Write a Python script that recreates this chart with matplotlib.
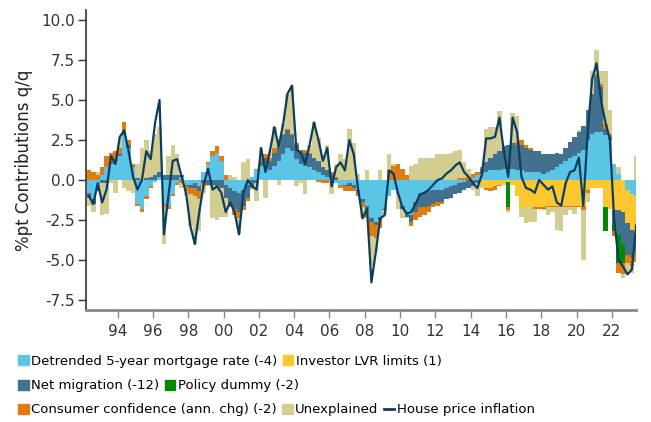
import numpy as np
import pandas as pd
import matplotlib
matplotlib.use('Agg')
import matplotlib.pyplot as plt
from matplotlib.patches import Patch
from matplotlib.lines import Line2D

plt.rcParams['font.family'] = ['DejaVu Sans']

# quarterly periods, 1992Q2 .. 2023Q2
quarters = pd.period_range('1992Q2', '2023Q2', freq='Q')

# contributions, %pt (one row per year)
mortgage = [
    -0.8, -1.2, -0.5,
    0.3, 0.8, 1.0, 1.2,
    1.5, 2.8, 2.0, 0.8,
    -1.5, -1.8, -1.0, -0.4,
    -0.1, 0.2, -1.5, -1.6,
    -0.9, -0.2, 0.2, -0.3,
    -0.3, -0.2, -0.4, 0.5,
    1.0, 1.5, 1.7, 1.2,
    -0.3, -0.5, -0.7, -0.8,
    -0.6, -0.3, 0.2, 0.6,
    0.9, 1.0, 0.6, 0.9,
    1.2, 1.6, 2.0, 1.8,
    1.3, 1.0, 0.9, 0.8,
    0.6, 0.5, 0.3, 0.2,
    0.1, -0.2, -0.3, -0.3,
    -0.2, -0.3, -0.6, -1.2,
    -1.6, -2.4, -2.6, -2.3,
    -1.8, -1.0, -0.6, -0.8,
    -1.6, -2.0, -2.2, -1.4,
    -0.9, -0.8, -0.7, -0.6,
    -0.6, -0.6, -0.5, -0.4,
    -0.3, -0.2, -0.1, 0.0,
    0.1, 0.3, 0.4, 0.5,
    0.6, 0.6, 0.6, 0.7,
    0.7, 0.7, 0.6, 0.6,
    0.5, 0.5, 0.5, 0.5,
    0.4, 0.5, 0.6, 0.8,
    1.0, 1.2, 1.4, 1.5,
    1.7, 1.9, 2.5, 2.9,
    3.0, 3.0, 2.8, 2.5,
    1.0, 0.4, 0.0, -0.6,
    -0.9, -1.0,
]
lvr = [0.0] * 89 + [
    -0.4, -0.5,
    -0.5, -0.4, -0.3, -0.2,
    -0.1, -0.3, -1.0, -1.7,
    -1.7, -1.7, -1.7, -1.7,
    -1.7, -1.6, -1.6, -1.6,
    -1.6, -1.6, -1.6, -1.6,
    -1.6, -1.6, -0.6, -0.5,
    -0.5, -0.5, -1.7, -1.8,
    -1.9, -1.9, -2.0, -2.1,
    -2.2, -2.3,
]
migration = [
    -0.3, -0.3, -0.2,
    -0.2, -0.2, 0.1, 0.1,
    0.1, 0.2, 0.2, 0.1,
    0.1, 0.0, 0.1, 0.2,
    0.3, 0.3, 0.3, 0.3,
    0.3, 0.3, 0.1, -0.1,
    -0.2, -0.3, -0.3, -0.2,
    -0.3, -0.3, -0.4, -0.5,
    -0.8, -1.0, -1.1, -1.2,
    -1.0, -0.8, -0.5, -0.2,
    0.2, 0.4, 0.6, 0.8,
    1.0, 1.2, 1.1, 1.0,
    0.9, 0.8, 0.8, 0.8,
    0.8, 0.7, 0.5, 0.4,
    0.2, 0.1, 0.0, -0.1,
    -0.2, -0.2, -0.2, -0.2,
    -0.2, -0.2, -0.2, -0.2,
    -0.1, 0.0, 0.0, -0.1,
    -0.2, -0.3, -0.4, -0.6,
    -0.8, -0.9, -0.9, -0.9,
    -0.8, -0.8, -0.7, -0.7,
    -0.6, -0.6, -0.5, -0.5,
    -0.4, -0.2, 0.3, 0.6,
    0.8, 1.0, 1.2, 1.4,
    1.5, 1.6, 1.6, 1.6,
    1.5, 1.4, 1.3, 1.3,
    1.2, 1.1, 1.0, 0.9,
    0.6, 0.8, 1.0, 1.2,
    1.3, 1.5, 1.9, 2.5,
    3.5, 2.8, 0.4, 0.2,
    -0.8, -1.5, -2.0, -2.0,
    -1.8, -1.2,
]
policy = [0.0] * 95 + [-1.6] + [0.0] * 21 + [-1.5, 0.0, -0.5, -1.8, -1.2, 0.0, 0.0, 0.0]
confidence = [
    0.6, 0.5, 0.3,
    0.5, 0.7, 0.6, 0.5,
    0.4, 0.6, 0.3, 0.1,
    -0.1, -0.2, -0.2, -0.1,
    0.0, 0.0, -0.2, -0.2,
    -0.1, -0.1, -0.2, -0.3,
    -0.4, -0.5, -0.5, -0.2,
    0.1, 0.3, 0.4, 0.3,
    0.3, -0.2, -0.4, -0.4,
    -0.3, -0.2, 0.0, 0.1,
    0.2, 0.2, 0.2, 0.3,
    0.2, 0.1, 0.1, 0.1,
    0.1, 0.1, 0.2, 0.1,
    0.0, -0.1, -0.2, -0.2,
    0.2, 0.1, -0.2, -0.3,
    -0.3, -0.2, -0.2, -0.3,
    -0.6, -0.9, -0.8, -0.5,
    0.0, 0.6, 0.9, 1.0,
    0.7, 0.3, -0.3, -0.5,
    -0.6, -0.5, -0.4, -0.2,
    -0.2, -0.1, 0.0, 0.0,
    0.0, 0.1, 0.1, 0.2,
    0.3, 0.2, 0.1, -0.1,
    -0.2, -0.2, -0.1, 0.0,
    -0.2, 0.0, 0.2, 0.3,
    0.2, 0.1, -0.1, -0.1,
    -0.1, -0.1, -0.1, -0.1,
    -0.1, -0.1, -0.1, -0.1,
    -0.1, -0.3, -0.2, 0.0,
    0.1, 0.2, 0.3, 0.2,
    -0.3, -0.6, -0.7, -0.5,
    -0.5, -0.6,
]
unexplained = [
    -0.5, -0.5, 0.2,
    -2.0, -1.9, -0.2, -0.8,
    0.7, -0.5, -0.7, -0.8,
    0.9, 2.0, 2.4, 1.6,
    2.6, 2.8, -2.3, 1.2,
    1.9, 1.3, -0.3, -0.3,
    -2.0, -3.0, -2.0, -0.4,
    -0.1, -2.1, -2.1, -1.8,
    -1.2, 0.3, 0.2, -1.0,
    1.1, 1.3, -0.1, -1.1,
    0.7, -1.1, 0.4, 1.3,
    -0.3, 0.6, 2.2, 3.0,
    -0.4, -0.2, -0.9, 0.5,
    2.2, 1.4, 0.6, 1.6,
    -0.9, 0.8, 1.6, 1.3,
    3.2, 2.3, 0.4, -0.7,
    0.6, -1.8, -0.9, 0.6,
    -0.3, 1.0, 0.1, -0.9,
    -0.6, -0.1, 0.9, 1.0,
    1.4, 1.4, 1.4, 1.4,
    1.6, 1.6, 1.6, 1.7,
    1.8, 1.8, 1.0, 0.5,
    -0.2, -0.8, -0.1, 2.1,
    1.9, 1.7, 2.5, -0.1,
    -0.1, 1.9, 1.6, -0.6,
    -1.0, -0.9, -0.8, 0.0,
    -0.1, -0.5, -0.3, -1.4,
    -1.5, -0.5, -0.2, -0.4,
    0.1, -3.1, -0.6, 1.4,
    1.5, 0.8, 3.3, 1.5,
    0.0, 0.4, -0.2, -0.7,
    -0.4, 1.5,
]
# house price inflation, % q/q
house_prices = [
    -1.0, -1.5, -0.2,
    -1.4, -0.6, 1.5, 1.0,
    2.7, 3.1, 1.8, 0.2,
    -0.6, 0.0, 1.8, 1.3,
    3.6, 5.0, -3.4, -1.0,
    1.2, 1.3, 0.2, -0.8,
    -2.9, -4.0, -2.0, -0.3,
    0.7, -0.6, -0.4, -0.8,
    -2.0, -1.4, -2.0, -3.4,
    -0.8, 0.0, -0.4, -0.6,
    2.0, 0.5, 1.8, 3.3,
    2.1, 3.5, 5.4, 5.9,
    1.9, 1.7, 1.0, 2.2,
    3.6, 2.5, 1.2, 2.0,
    -0.4, 0.8, 1.1, 0.6,
    2.5, 1.6, -0.6, -2.4,
    -1.8, -6.4, -4.5, -2.4,
    -2.2, 0.6, 0.4, -0.8,
    -1.7, -2.1, -2.0, -1.5,
    -0.9, -0.8, -0.6, -0.3,
    0.0, 0.1, 0.4, 0.6,
    0.9, 1.1, 0.5, 0.2,
    -0.2, -0.5, 0.3, 2.6,
    2.6, 2.7, 3.9, 1.8,
    0.2, 3.9, 3.0, 0.2,
    -0.5, -0.6, -0.8, 0.0,
    -0.3, -0.6, -0.4, -1.4,
    -1.6, -0.2, 0.5, 0.6,
    1.4, -1.6, 3.0, 6.3,
    7.3, 5.0, 3.6, 2.6,
    -2.5, -5.0, -5.4, -5.9,
    -5.6, -2.8,
]

labels = ['Detrended 5-year mortgage rate (-4)', 'Investor LVR limits (1)',
          'Net migration (-12)', 'Policy dummy (-2)',
          'Consumer confidence (ann. chg) (-2)', 'Unexplained']
colors = ['#5bc5e8', '#fdc82f', '#41718f', '#008a00', '#e07b12', '#d4cd92']
line_color = '#0b3d5e'

x = quarters.year + (quarters.quarter - 1) / 4.0

fig = plt.figure(figsize=(6.51, 4.22), dpi=100)
ax = fig.add_axes([86 / 651, 1 - 310 / 422, 550 / 651, 300 / 422])

pos_base = np.zeros(len(x))
neg_base = np.zeros(len(x))
for vals, c in zip([mortgage, lvr, migration, policy, confidence, unexplained], colors):
    v = np.array(vals)
    pos = np.clip(v, 0, None)
    neg = np.clip(v, None, 0)
    ax.bar(x, pos, width=0.25, bottom=pos_base, align='edge', color=c, linewidth=0)
    ax.bar(x, neg, width=0.25, bottom=neg_base, align='edge', color=c, linewidth=0)
    pos_base += pos
    neg_base += neg

ax.plot(x + 0.125, house_prices, color=line_color, lw=1.6, zorder=5)

ax.set_xlim(1992.21, 2023.36)
ax.set_ylim(-8.125, 10.625)
years = np.arange(1994, 2023, 2)
ax.set_xticks(years)
ax.set_xticklabels([f'{y % 100:02d}' for y in years])
ax.set_yticks(np.arange(-7.5, 10.1, 2.5))
ax.set_yticklabels([f'{v:.1f}' for v in np.arange(-7.5, 10.1, 2.5)])
ax.tick_params(axis='both', labelsize=11, length=6, width=1, direction='out', colors='#333333')
ax.tick_params(axis='x', colors='#888888', labelcolor='#333333', pad=4)
ax.tick_params(axis='y', pad=2)
ax.set_ylabel('%pt Contributions q/q', fontsize=12, color='#222222', labelpad=6)

for s in ['top', 'right']:
    ax.spines[s].set_visible(False)
ax.spines['left'].set_color('#333333')
ax.spines['left'].set_linewidth(1.2)
ax.spines['bottom'].set_color('#888888')
ax.spines['bottom'].set_linewidth(2)

# legend rows, flowing like the original
handles = [Patch(color=c) for c in colors]
line_handle = Line2D([], [], color=line_color, lw=2)
rows = [
    ([handles[0], handles[1]], [labels[0], labels[1]], 1 - 361 / 422),
    ([handles[2], handles[3]], [labels[2], labels[3]], 1 - 386 / 422),
    ([handles[4], handles[5], line_handle], [labels[4], labels[5], 'House price inflation'], 1 - 410 / 422),
]
for h, l, yy in rows:
    fig.legend(h, l, loc='center left', bbox_to_anchor=(18 / 651, yy), ncol=len(h),
               frameon=False, fontsize=9.5, handlelength=0.8, handleheight=0.8,
               handletextpad=0.2, columnspacing=0.4, borderpad=0, borderaxespad=0)

fig.savefig('out.png', dpi=100)
